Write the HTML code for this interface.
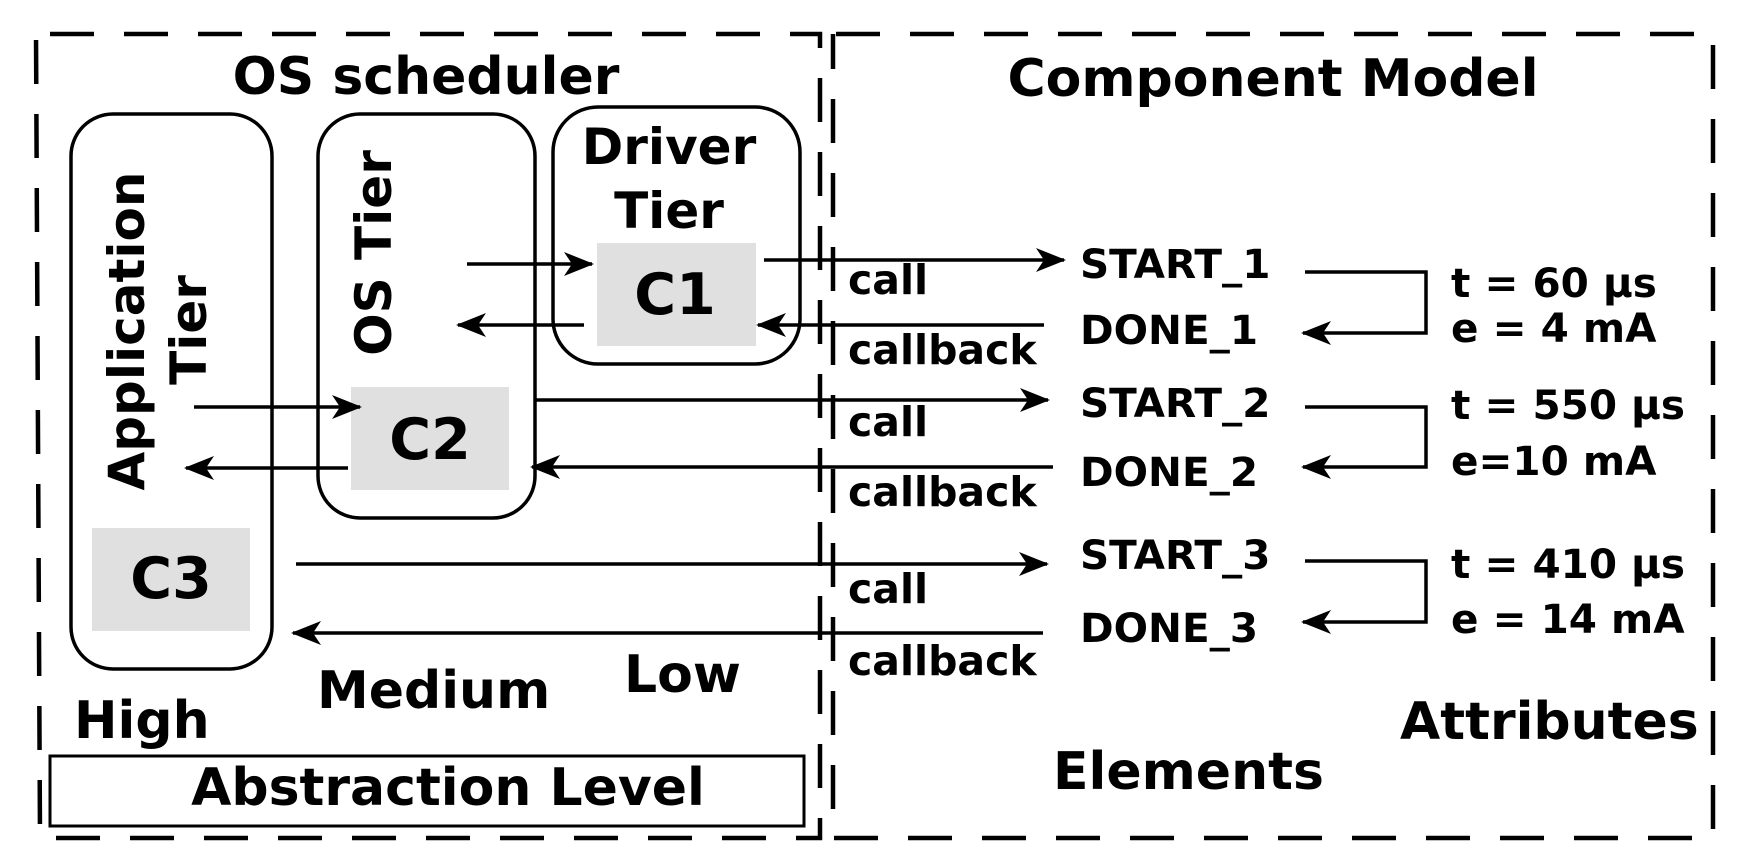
<!DOCTYPE html>
<html><head><meta charset="utf-8"><style>
html,body{margin:0;padding:0;background:#fff;}
svg{display:block;}
text{font-family:"DejaVu Sans","Liberation Sans",sans-serif;font-weight:bold;fill:#000;}
</style></head><body>
<svg width="1743" height="868" viewBox="0 0 1743 868" xmlns="http://www.w3.org/2000/svg">
<defs>
<marker id="ah" viewBox="0 0 30 24" refX="28" refY="12" markerWidth="30" markerHeight="24" markerUnits="userSpaceOnUse" orient="auto">
<path d="M0,0 L30,12 L0,24 L8,12 Z" fill="#000"/>
</marker>
</defs>
<g fill="none" stroke="#000" stroke-width="4.5" stroke-dasharray="44,30">
<path d="M50,34 L820,34 L820,838 L40,838 L36,34"/>
<path d="M836,34 L1713,34 L1713,838 L833,838 L833,34"/>
</g>
<g fill="none" stroke="#000" stroke-width="3.5">
<rect x="71" y="114" width="201" height="555" rx="42"/>
<rect x="318" y="114" width="217" height="404" rx="42"/>
<rect x="553" y="107" width="247" height="257" rx="45"/>
<rect x="50" y="756" width="754" height="70" stroke-width="3"/>
</g>
<g fill="#e0e0e0">
<rect x="597" y="243" width="159" height="103"/>
<rect x="351" y="387" width="158" height="103"/>
<rect x="92" y="528" width="158" height="103"/>
</g>
<g stroke="#000" stroke-width="3.5" marker-end="url(#ah)">
<line x1="467" y1="264" x2="592" y2="264"/>
<line x1="584" y1="325" x2="458" y2="325"/>
<line x1="194" y1="407" x2="360" y2="407"/>
<line x1="348" y1="468" x2="186" y2="468"/>
<line x1="764" y1="260" x2="1064" y2="260"/>
<line x1="1044" y1="325" x2="758" y2="325"/>
<line x1="535" y1="400" x2="1048" y2="400"/>
<line x1="1053" y1="467" x2="532" y2="467"/>
<line x1="296" y1="564" x2="1047" y2="564"/>
<line x1="1043" y1="633" x2="293" y2="633"/>
</g>
<g fill="none" stroke="#000" stroke-width="3.5" marker-end="url(#ah)">
<path d="M1305,272 L1426,272 L1426,333 L1303,333"/>
<path d="M1305,407 L1426,407 L1426,467 L1303,467"/>
<path d="M1305,561 L1426,561 L1426,622 L1303,622"/>
</g>
<text x="426" y="94" font-size="52" text-anchor="middle">OS scheduler</text>
<text x="1273" y="96" font-size="52" text-anchor="middle">Component Model</text>
<text x="669" y="164" font-size="50" text-anchor="middle">Driver</text>
<text x="669" y="228" font-size="50" text-anchor="middle">Tier</text>
<text transform="translate(391,253) rotate(-90)" font-size="50" text-anchor="middle">OS Tier</text>
<text transform="translate(144,331) rotate(-90)" font-size="50" text-anchor="middle">Application</text>
<text transform="translate(206,330) rotate(-90)" font-size="50" text-anchor="middle">Tier</text>
<text x="675" y="314" font-size="57" text-anchor="middle">C1</text>
<text x="430" y="459" font-size="57" text-anchor="middle">C2</text>
<text x="171" y="598" font-size="57" text-anchor="middle">C3</text>
<g font-size="41">
<text x="848" y="294">call</text>
<text x="848" y="364">callback</text>
<text x="848" y="436">call</text>
<text x="848" y="506">callback</text>
<text x="848" y="603">call</text>
<text x="848" y="675">callback</text>
</g>
<g font-size="40.5">
<text x="1080" y="278">START_1</text>
<text x="1080" y="344">DONE_1</text>
<text x="1080" y="417">START_2</text>
<text x="1080" y="486">DONE_2</text>
<text x="1080" y="569">START_3</text>
<text x="1080" y="642">DONE_3</text>
<text x="1451" y="297">t = 60 μs</text>
<text x="1451" y="342">e = 4 mA</text>
<text x="1451" y="419">t = 550 μs</text>
<text x="1451" y="475">e=10 mA</text>
<text x="1451" y="578">t = 410 μs</text>
<text x="1451" y="633">e = 14 mA</text>
</g>
<g font-size="52">
<text x="317" y="708">Medium</text>
<text x="624" y="692">Low</text>
<text x="74" y="738">High</text>
<text x="1400" y="739">Attributes</text>
<text x="1053" y="789">Elements</text>
<text x="448" y="805" text-anchor="middle">Abstraction Level</text>
</g>
</svg>
</body></html>
